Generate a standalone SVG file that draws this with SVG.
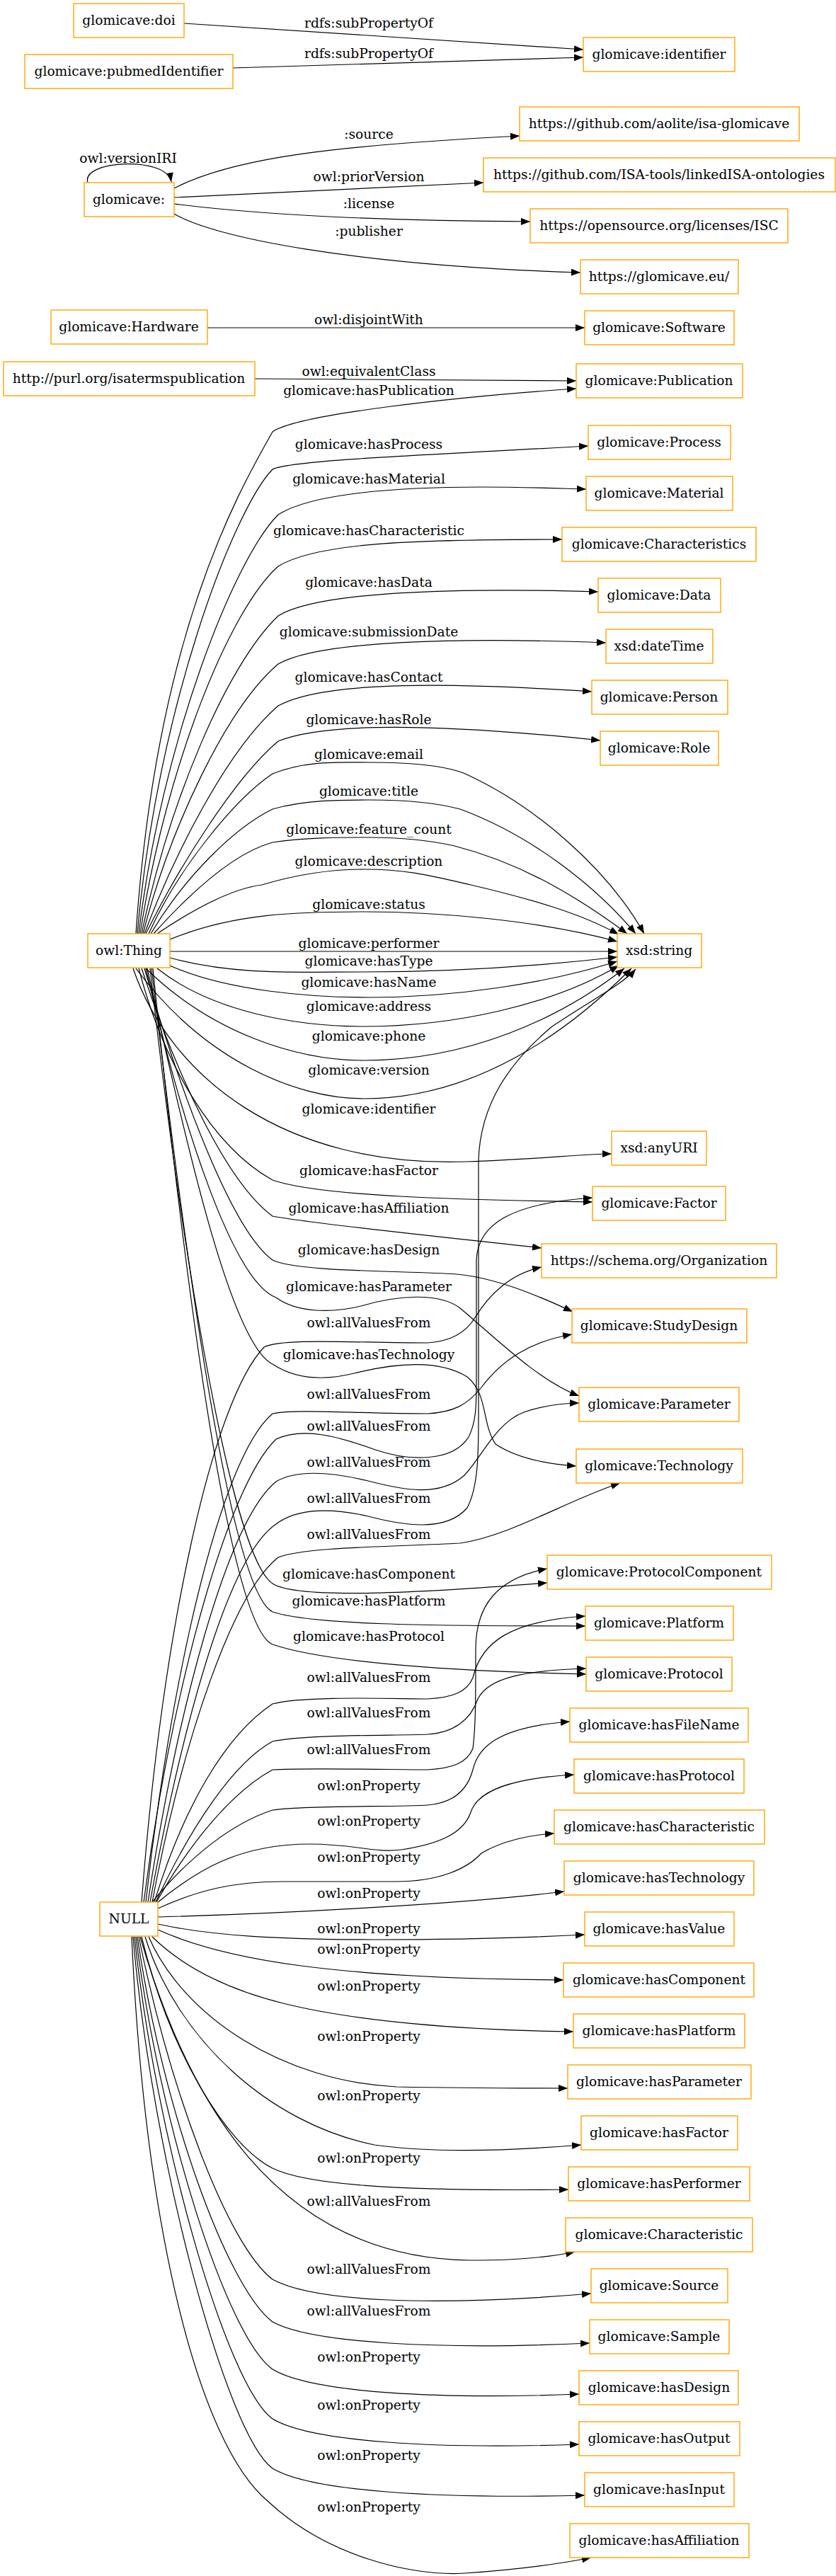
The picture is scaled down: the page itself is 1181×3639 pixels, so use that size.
<svg xmlns="http://www.w3.org/2000/svg" width="1181" height="3639" viewBox="0 0 1181 3639">
<defs>
<marker id="ah" markerWidth="14" markerHeight="10" refX="13" refY="5" orient="auto" markerUnits="userSpaceOnUse"><path d="M0,0 L13,5 L0,10 z" fill="#000"/></marker>
<style>
.n rect{fill:#fff;stroke:#ffa500;stroke-width:1.4}
text{font-family:"DejaVu Serif",serif;font-size:18.67px;text-anchor:middle;fill:#000}
.e path{fill:none;stroke:#000;stroke-width:1.2;marker-end:url(#ah)}
</style>
</defs>
<rect width="1181" height="3639" fill="#fff"/>
<g id="edges" class="e">
<path d="M260,33 L824,70"/>
<path d="M329,96 L824,81"/>
<path d="M124,258 C114,226 236,220 242,257"/>
<path d="M246,266 C330,222 480,205 734,192"/>
<path d="M246,279 L683,258"/>
<path d="M246,288 C380,305 550,312 749,313"/>
<path d="M246,302 C300,335 500,375 820,385"/>
<path d="M293,463 L826,463"/>
<path d="M360,535 L814,538"/>
<path d="M192,1319 C221,894 337,695 385,610 C420,585 650,560 814,549"/>
<path d="M194,1319 C222,1000 330,720 385,663 C410,650 600,643 831,630"/>
<path d="M196,1319 C228,1050 330,790 393,727 C440,697 560,688 680,688 C740,688 790,690 828,691"/>
<path d="M198,1319 C235,1080 325,860 393,800 C450,765 600,762 794,762"/>
<path d="M200,1319 C240,1130 320,940 393,870 C450,835 650,830 845,836"/>
<path d="M202,1319 C240,1170 320,1000 393,938 C450,905 650,900 856,908"/>
<path d="M204,1319 C245,1210 320,1060 393,997 C460,960 650,965 836,977"/>
<path d="M206,1319 C250,1230 330,1100 393,1047 C460,1020 620,1022 848,1046"/>
<path d="M210,1319 C250,1230 330,1130 385,1093 C430,1075 470,1077 521,1077 C580,1077 630,1082 657,1093 C760,1140 860,1230 910,1319"/>
<path d="M213,1319 C260,1240 330,1170 385,1143 C430,1130 480,1130 521,1130 C580,1130 620,1135 650,1143 C750,1180 840,1250 898,1319"/>
<path d="M217,1319 C270,1260 330,1205 385,1190 C430,1183 480,1183 521,1183 C580,1183 620,1190 642,1195 C740,1220 820,1270 886,1319"/>
<path d="M222,1319 C280,1280 330,1255 370,1250 C420,1235 470,1228 514,1228 C580,1228 620,1240 665,1250 C750,1270 820,1290 874,1320"/>
<path d="M240,1327 C330,1290 420,1288 514,1288 C620,1288 760,1300 872,1330"/>
<path d="M240,1344 L872,1344"/>
<path d="M240,1353 C330,1378 420,1373 514,1373 C640,1373 760,1365 872,1352"/>
<path d="M240,1364 C320,1400 440,1409 521,1409 C640,1409 770,1390 872,1358"/>
<path d="M222,1368 C300,1430 420,1450 514,1450 C640,1450 780,1420 874,1364"/>
<path d="M206,1368 C300,1460 420,1498 514,1498 C660,1498 790,1440 882,1368"/>
<path d="M192,1368 C290,1500 420,1552 514,1552 C670,1552 800,1460 892,1368"/>
<path d="M188,1368 C240,1520 400,1650 660,1641 C760,1638 820,1630 864,1630"/>
<path d="M196,1368 C230,1500 300,1620 385,1667 C450,1690 650,1695 837,1698"/>
<path d="M200,1368 C250,1520 320,1670 385,1718 C450,1730 650,1750 765,1763"/>
<path d="M204,1368 C260,1560 330,1740 385,1780 C420,1797 570,1795 645,1800 C700,1805 760,1830 809,1853"/>
<path d="M206,1368 C260,1600 330,1810 390,1833 C420,1855 470,1855 510,1845 C560,1830 620,1825 650,1848 C700,1890 760,1950 818,1972"/>
<path d="M208,1368 C270,1650 330,1900 385,1927 C420,1950 460,1950 500,1940 C560,1925 620,1920 660,1945 C690,1970 680,2010 700,2040 C730,2060 770,2068 814,2071"/>
<path d="M212,1368 C260,1800 330,2200 385,2237 C420,2260 600,2250 773,2236"/>
<path d="M214,1368 C270,1850 330,2250 385,2277 C440,2295 600,2297 827,2297"/>
<path d="M216,1368 C270,1900 330,2300 385,2323 C450,2345 600,2360 828,2365"/>
<path d="M200,2687 C230,2300 300,1980 373,1903 C400,1890 500,1897 604,1897 C640,1895 660,1880 672,1860 C690,1830 720,1800 765,1790"/>
<path d="M206,2687 C240,2380 310,2060 385,1997 C420,1990 500,1997 604,1997 C640,1995 660,1985 680,1960 C710,1920 750,1895 808,1885"/>
<path d="M203,2687 C240,2400 320,2100 390,2033 C430,2015 480,2030 530,2048 C580,2065 640,2065 662,2030 C672,2010 673,1990 673,1950 L673,1780 C675,1730 720,1700 837,1692"/>
<path d="M209,2687 C250,2420 320,2150 390,2093 C420,2075 470,2080 520,2092 C570,2105 620,2115 655,2085 C680,2060 700,2010 740,1995 C770,1985 795,1982 818,1982"/>
<path d="M212,2687 C255,2450 320,2200 390,2153 C420,2130 470,2130 520,2142 C570,2155 630,2165 660,2130 C676,2100 676,2050 676,2000 L676,1640 C678,1560 720,1500 780,1450 C840,1410 880,1390 898,1369"/>
<path d="M215,2687 C260,2450 330,2250 393,2200 C430,2185 560,2185 650,2180 C720,2170 800,2120 876,2095"/>
<path d="M218,2687 C260,2550 320,2450 385,2407 C430,2395 560,2400 604,2400 C640,2398 660,2390 668,2370 C680,2320 720,2290 827,2283"/>
<path d="M220,2687 C270,2580 330,2490 385,2460 C430,2450 560,2452 604,2450 C640,2448 665,2430 675,2400 C690,2370 740,2360 828,2357"/>
<path d="M221,2687 C270,2600 330,2530 385,2500 C430,2497 560,2500 604,2500 C640,2498 660,2490 668,2470 C672,2440 672,2400 672,2330 C672,2270 700,2230 773,2216"/>
<path d="M215,2687 C270,2620 330,2575 385,2557 C430,2550 560,2553 604,2550 C640,2547 660,2530 668,2500 C675,2470 700,2440 805,2432"/>
<path d="M222,2688 C280,2640 340,2605 438,2605 C500,2605 530,2618 567,2613 C620,2605 655,2590 665,2560 C675,2530 720,2512 811,2507"/>
<path d="M223,2696 C280,2670 330,2658 400,2658 L559,2658 C620,2658 660,2640 680,2618 C710,2600 750,2592 783,2590"/>
<path d="M223,2708 C400,2703 650,2690 797,2672"/>
<path d="M223,2718 C300,2735 400,2740 529,2740 C650,2740 750,2737 826,2733"/>
<path d="M223,2726 C320,2770 480,2795 796,2797"/>
<path d="M215,2736 C260,2780 320,2810 400,2830 C500,2855 650,2868 810,2870"/>
<path d="M210,2736 C260,2850 400,2940 560,2948 C660,2950 740,2950 802,2950"/>
<path d="M205,2736 C250,2880 380,3000 529,3030 C600,3040 700,3040 821,3030"/>
<path d="M200,2736 C240,2900 320,3030 385,3063 C430,3085 550,3096 803,3093"/>
<path d="M198,2736 C260,2950 380,3190 665,3193 C730,3193 780,3188 812,3181"/>
<path d="M196,2736 C240,2950 320,3170 385,3220 C440,3250 600,3260 835,3240"/>
<path d="M194,2736 C230,2980 320,3230 385,3280 C440,3310 620,3320 833,3310"/>
<path d="M192,2736 C225,3000 320,3300 385,3347 C440,3380 620,3390 818,3382"/>
<path d="M190,2736 C220,3020 320,3370 385,3417 C440,3450 620,3460 818,3453"/>
<path d="M188,2736 C215,3050 320,3440 385,3487 C440,3520 620,3530 826,3525"/>
<path d="M186,2736 C205,3150 280,3450 378,3533 C460,3610 580,3640 657,3635 C730,3630 790,3622 835,3613"/>
</g>
<g id="edge-labels">
<text x="521" y="39">rdfs:subPropertyOf</text>
<text x="521" y="82">rdfs:subPropertyOf</text>
<text x="181" y="230">owl:versionIRI</text>
<text x="521" y="196">:source</text>
<text x="521" y="256">owl:priorVersion</text>
<text x="521" y="294">:license</text>
<text x="521" y="333">:publisher</text>
<text x="521" y="458">owl:disjointWith</text>
<text x="521" y="531">owl:equivalentClass</text>
<text x="521" y="558">glomicave:hasPublication</text>
<text x="521" y="634">glomicave:hasProcess</text>
<text x="521" y="683">glomicave:hasMaterial</text>
<text x="521" y="756">glomicave:hasCharacteristic</text>
<text x="521" y="829">glomicave:hasData</text>
<text x="521" y="899">glomicave:submissionDate</text>
<text x="521" y="963">glomicave:hasContact</text>
<text x="521" y="1023">glomicave:hasRole</text>
<text x="521" y="1072">glomicave:email</text>
<text x="521" y="1124">glomicave:title</text>
<text x="521" y="1178">glomicave:feature_count</text>
<text x="521" y="1223">glomicave:description</text>
<text x="521" y="1284">glomicave:status</text>
<text x="521" y="1339">glomicave:performer</text>
<text x="521" y="1364">glomicave:hasType</text>
<text x="521" y="1394">glomicave:hasName</text>
<text x="521" y="1428">glomicave:address</text>
<text x="521" y="1470">glomicave:phone</text>
<text x="521" y="1518">glomicave:version</text>
<text x="521" y="1573">glomicave:identifier</text>
<text x="521" y="1660">glomicave:hasFactor</text>
<text x="521" y="1713">glomicave:hasAffiliation</text>
<text x="521" y="1772">glomicave:hasDesign</text>
<text x="521" y="1824">glomicave:hasParameter</text>
<text x="521" y="1875">owl:allValuesFrom</text>
<text x="521" y="1920">glomicave:hasTechnology</text>
<text x="521" y="1976">owl:allValuesFrom</text>
<text x="521" y="2021">owl:allValuesFrom</text>
<text x="521" y="2072">owl:allValuesFrom</text>
<text x="521" y="2123">owl:allValuesFrom</text>
<text x="521" y="2174">owl:allValuesFrom</text>
<text x="521" y="2230">glomicave:hasComponent</text>
<text x="521" y="2268">glomicave:hasPlatform</text>
<text x="521" y="2318">glomicave:hasProtocol</text>
<text x="521" y="2376">owl:allValuesFrom</text>
<text x="521" y="2426">owl:allValuesFrom</text>
<text x="521" y="2478">owl:allValuesFrom</text>
<text x="521" y="2529">owl:onProperty</text>
<text x="521" y="2579">owl:onProperty</text>
<text x="521" y="2630">owl:onProperty</text>
<text x="521" y="2681">owl:onProperty</text>
<text x="521" y="2731">owl:onProperty</text>
<text x="521" y="2760">owl:onProperty</text>
<text x="521" y="2812">owl:onProperty</text>
<text x="521" y="2883">owl:onProperty</text>
<text x="521" y="2967">owl:onProperty</text>
<text x="521" y="3055">owl:onProperty</text>
<text x="521" y="3116">owl:allValuesFrom</text>
<text x="521" y="3212">owl:allValuesFrom</text>
<text x="521" y="3271">owl:allValuesFrom</text>
<text x="521" y="3336">owl:onProperty</text>
<text x="521" y="3404">owl:onProperty</text>
<text x="521" y="3475">owl:onProperty</text>
<text x="521" y="3548">owl:onProperty</text>
</g>
<g id="n-doi" class="n"><rect x="104" y="5" width="156" height="48"/><text x="182" y="35">glomicave:doi</text></g>
<g id="n-pubmed" class="n"><rect x="35" y="77" width="294" height="48"/><text x="182" y="107">glomicave:pubmedIdentifier</text></g>
<g id="n-glomicave" class="n"><rect x="119" y="258" width="127" height="48"/><text x="182" y="288">glomicave:</text></g>
<g id="n-hardware" class="n"><rect x="72" y="438" width="221" height="48"/><text x="182" y="468">glomicave:Hardware</text></g>
<g id="n-purl" class="n"><rect x="5" y="511" width="355" height="48"/><text x="182" y="541">http://purl.org/isatermspublication</text></g>
<g id="n-thing" class="n"><rect x="124" y="1319" width="116" height="48"/><text x="182" y="1349">owl:Thing</text></g>
<g id="n-null" class="n"><rect x="141" y="2687" width="82" height="48"/><text x="182" y="2717">NULL</text></g>
<g id="n-identifier" class="n"><rect x="824" y="53" width="214" height="48"/><text x="931" y="83">glomicave:identifier</text></g>
<g id="n-aolite" class="n"><rect x="734" y="151" width="395" height="48"/><text x="931" y="181">https://github.com/aolite/isa-glomicave</text></g>
<g id="n-isatools" class="n"><rect x="683" y="223" width="497" height="48"/><text x="931" y="253">https://github.com/ISA-tools/linkedISA-ontologies</text></g>
<g id="n-isc" class="n"><rect x="749" y="295" width="364" height="48"/><text x="931" y="325">https://opensource.org/licenses/ISC</text></g>
<g id="n-eu" class="n"><rect x="820" y="367" width="223" height="48"/><text x="931" y="397">https://glomicave.eu/</text></g>
<g id="n-software" class="n"><rect x="826" y="439" width="211" height="48"/><text x="931" y="469">glomicave:Software</text></g>
<g id="n-publication" class="n"><rect x="814" y="514" width="235" height="48"/><text x="931" y="544">glomicave:Publication</text></g>
<g id="n-process" class="n"><rect x="831" y="601" width="201" height="48"/><text x="931" y="631">glomicave:Process</text></g>
<g id="n-material" class="n"><rect x="828" y="673" width="207" height="48"/><text x="931" y="703">glomicave:Material</text></g>
<g id="n-characteristics" class="n"><rect x="794" y="745" width="274" height="48"/><text x="931" y="775">glomicave:Characteristics</text></g>
<g id="n-data" class="n"><rect x="845" y="817" width="173" height="48"/><text x="931" y="847">glomicave:Data</text></g>
<g id="n-datetime" class="n"><rect x="856" y="889" width="151" height="48"/><text x="931" y="919">xsd:dateTime</text></g>
<g id="n-person" class="n"><rect x="836" y="961" width="192" height="48"/><text x="931" y="991">glomicave:Person</text></g>
<g id="n-role" class="n"><rect x="848" y="1033" width="167" height="48"/><text x="931" y="1063">glomicave:Role</text></g>
<g id="n-string" class="n"><rect x="872" y="1319" width="119" height="48"/><text x="931" y="1349">xsd:string</text></g>
<g id="n-anyuri" class="n"><rect x="864" y="1598" width="134" height="48"/><text x="931" y="1628">xsd:anyURI</text></g>
<g id="n-factor" class="n"><rect x="837" y="1676" width="188" height="48"/><text x="931" y="1706">glomicave:Factor</text></g>
<g id="n-organization" class="n"><rect x="765" y="1757" width="332" height="48"/><text x="931" y="1787">https://schema.org/Organization</text></g>
<g id="n-studydesign" class="n"><rect x="808" y="1849" width="247" height="48"/><text x="931" y="1879">glomicave:StudyDesign</text></g>
<g id="n-parameter" class="n"><rect x="818" y="1960" width="226" height="48"/><text x="931" y="1990">glomicave:Parameter</text></g>
<g id="n-technology" class="n"><rect x="814" y="2047" width="235" height="48"/><text x="931" y="2077">glomicave:Technology</text></g>
<g id="n-protocolcomponent" class="n"><rect x="773" y="2197" width="317" height="48"/><text x="931" y="2227">glomicave:ProtocolComponent</text></g>
<g id="n-platform" class="n"><rect x="827" y="2269" width="209" height="48"/><text x="931" y="2299">glomicave:Platform</text></g>
<g id="n-protocol" class="n"><rect x="828" y="2341" width="206" height="48"/><text x="931" y="2371">glomicave:Protocol</text></g>
<g id="n-hasfilename" class="n"><rect x="805" y="2413" width="252" height="48"/><text x="931" y="2443">glomicave:hasFileName</text></g>
<g id="n-hasprotocol" class="n"><rect x="811" y="2485" width="240" height="48"/><text x="931" y="2515">glomicave:hasProtocol</text></g>
<g id="n-hascharacteristic" class="n"><rect x="783" y="2557" width="297" height="48"/><text x="931" y="2587">glomicave:hasCharacteristic</text></g>
<g id="n-hastechnology" class="n"><rect x="797" y="2629" width="268" height="48"/><text x="931" y="2659">glomicave:hasTechnology</text></g>
<g id="n-hasvalue" class="n"><rect x="826" y="2701" width="211" height="48"/><text x="931" y="2731">glomicave:hasValue</text></g>
<g id="n-hascomponent" class="n"><rect x="796" y="2773" width="269" height="48"/><text x="931" y="2803">glomicave:hasComponent</text></g>
<g id="n-hasplatform" class="n"><rect x="810" y="2845" width="242" height="48"/><text x="931" y="2875">glomicave:hasPlatform</text></g>
<g id="n-hasparameter" class="n"><rect x="802" y="2917" width="259" height="48"/><text x="931" y="2947">glomicave:hasParameter</text></g>
<g id="n-hasfactor" class="n"><rect x="821" y="2989" width="221" height="48"/><text x="931" y="3019">glomicave:hasFactor</text></g>
<g id="n-hasperformer" class="n"><rect x="803" y="3061" width="256" height="48"/><text x="931" y="3091">glomicave:hasPerformer</text></g>
<g id="n-characteristic" class="n"><rect x="799" y="3133" width="264" height="48"/><text x="931" y="3163">glomicave:Characteristic</text></g>
<g id="n-source" class="n"><rect x="835" y="3205" width="193" height="48"/><text x="931" y="3235">glomicave:Source</text></g>
<g id="n-sample" class="n"><rect x="833" y="3277" width="197" height="48"/><text x="931" y="3307">glomicave:Sample</text></g>
<g id="n-hasdesign" class="n"><rect x="818" y="3349" width="225" height="48"/><text x="931" y="3379">glomicave:hasDesign</text></g>
<g id="n-hasoutput" class="n"><rect x="818" y="3421" width="227" height="48"/><text x="931" y="3451">glomicave:hasOutput</text></g>
<g id="n-hasinput" class="n"><rect x="826" y="3493" width="211" height="48"/><text x="931" y="3523">glomicave:hasInput</text></g>
<g id="n-hasaffiliation" class="n"><rect x="805" y="3565" width="253" height="48"/><text x="931" y="3595">glomicave:hasAffiliation</text></g>
</svg>
